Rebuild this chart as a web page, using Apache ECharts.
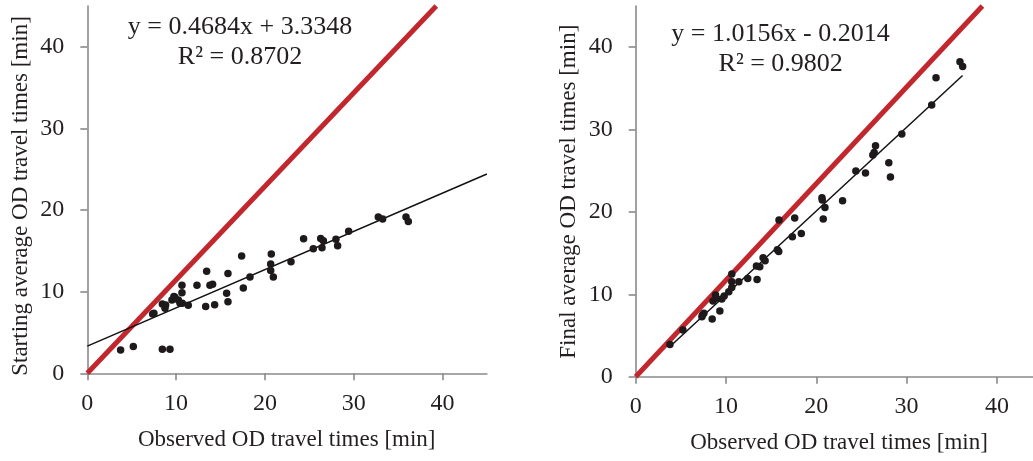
<!DOCTYPE html>
<html>
<head>
<meta charset="utf-8">
<script src="https://cdn.jsdelivr.net/npm/echarts@6/dist/echarts.min.js"></script>
<style>
html,body{margin:0;padding:0;background:#fff;}
#c{width:1033px;height:461px;}
</style>
</head>
<body>
<div id="c"></div>
<script>
// ---- data ----
const tickValues = [0, 10, 20, 30, 40];

// Left panel: observed vs starting average OD travel times
const leftObserved = [3.75,5.18,8.45,9.31,7.36,7.5,8.45,8.75,8.82,9.53,9.75,9.87,10.25,10.44,10.66,10.66,10.7,11.37,12.35,13.33,13.44,13.81,14.11,14.34,15.69,15.84,15.84,17.38,17.57,18.32,20.72,20.65,20.65,20.95,22.94,24.36,25.45,26.28,26.58,26.43,28.0,28.19,29.43,32.77,33.26,35.89,36.15];
const leftStarting = [2.86,3.27,2.94,2.94,7.27,7.35,8.49,7.96,8.37,8.98,9.4,9.31,8.98,8.57,10.8,9.88,8.57,8.33,10.8,8.18,12.49,10.78,10.9,8.39,9.8,12.24,8.78,14.37,10.45,11.8,14.63,13.39,12.59,11.8,13.67,16.49,15.27,16.53,16.24,15.39,16.41,15.63,17.39,19.14,18.9,19.14,18.61];
const leftFitLine = [[0, 3.33], [45, 24.41]];
const leftRefLine = [[0, 0], [39.3, 45]];
const leftEquation = ['y = 0.4684x + 3.3348', 'R\u00B2 = 0.8702'];
const leftYTitle = 'Starting average OD travel times [min]';

// Right panel: observed vs final average OD travel times
const rightObserved = [3.79,5.23,7.4,7.55,7.33,8.47,8.55,8.84,8.91,9.32,9.54,9.8,10.31,10.64,10.64,10.64,11.42,12.41,13.37,13.44,13.74,14.11,14.33,15.69,15.84,15.87,17.35,17.61,18.34,20.63,20.66,20.77,20.96,22.91,24.38,25.45,26.26,26.41,26.56,28.03,28.21,29.47,32.78,33.26,35.91,36.21];
const rightFinal = [3.92,5.66,7.48,7.69,7.28,7.0,9.18,9.91,9.51,7.97,9.43,9.79,10.32,12.46,11.53,10.84,11.53,11.93,13.43,11.81,13.35,14.44,14.08,15.41,15.21,19.01,16.99,19.26,17.39,21.72,21.44,19.13,20.55,21.36,24.96,24.72,26.9,27.22,28.03,25.97,24.23,29.45,32.97,36.29,38.23,37.66];
const rightFitLine = [[3.8, 3.66], [36.2, 36.56]];
const rightRefLine = [[0, 0], [38.4, 45]];
const rightEquation = ['y = 1.0156x - 0.2014', 'R\u00B2 = 0.9802'];
const rightYTitle = 'Final average OD travel times [min]';

const xTitle = 'Observed OD travel times [min]';

// ---- styling ----
const FONT = '"Liberation Serif", "Times New Roman", serif';
const TXT = '#231f20';
const AXC = '#8a8a8a';
const RED = '#c1272d';

function zip(xs, ys) { return xs.map((x, i) => [x, ys[i]]); }

function xAxis(gridIndex, max) {
  return {
    type: 'value', gridIndex, min: 0, max, interval: 10,
    splitLine: { show: false },
    axisLine: { show: true, onZero: false, lineStyle: { color: AXC, width: 1.6 } },
    axisTick: { show: true, inside: false, length: 7, customValues: tickValues, lineStyle: { color: AXC, width: 1.6 } },
    axisLabel: { show: true, customValues: tickValues, margin: 18, fontFamily: FONT, fontSize: 24, color: TXT }
  };
}
function yAxis(gridIndex) {
  return {
    type: 'value', gridIndex, min: 0, max: 45, interval: 10,
    splitLine: { show: false },
    axisLine: { show: true, onZero: false, lineStyle: { color: AXC, width: 1.6 } },
    axisTick: { show: true, inside: false, length: 7, customValues: tickValues, lineStyle: { color: AXC, width: 1.6 } },
    axisLabel: { show: true, customValues: tickValues, margin: 23, fontFamily: FONT, fontSize: 24, color: TXT }
  };
}

function panelSeries(idx, obs, est, fit, ref) {
  return [
    { type: 'line', xAxisIndex: idx, yAxisIndex: idx, data: ref, symbol: 'none', silent: true,
      lineStyle: { color: RED, width: 5 }, z: 2, clip: true },
    { type: 'line', xAxisIndex: idx, yAxisIndex: idx, data: fit, symbol: 'none', silent: true,
      lineStyle: { color: '#111', width: 1.5 }, z: 3 },
    { type: 'scatter', xAxisIndex: idx, yAxisIndex: idx, data: zip(obs, est), symbol: 'circle', symbolSize: 7.5,
      itemStyle: { color: '#1e1a1b', opacity: 1 }, z: 4 }
  ];
}

function txt(x, y, s, size, rot) {
  return { type: 'text', x, y, rotation: rot || 0,
    style: { text: s, font: size + 'px ' + FONT, fill: TXT, align: 'center', verticalAlign: 'middle' } };
}

const chart = echarts.init(document.getElementById('c'), null, { renderer: 'canvas' });
chart.setOption({
  backgroundColor: '#ffffff',
  animation: false,
  grid: [
    { left: 87.3, top: 6, width: 399.6, height: 367.3 },
    { left: 635.7, top: 6, width: 398.2, height: 370.7 }
  ],
  xAxis: [xAxis(0, 45), xAxis(1, 44)],
  yAxis: [yAxis(0), yAxis(1)],
  series: [].concat(
    panelSeries(0, leftObserved, leftStarting, leftFitLine, leftRefLine),
    panelSeries(1, rightObserved, rightFinal, rightFitLine, rightRefLine)
  ),
  graphic: [
    txt(240, 27, leftEquation[0], 26),
    txt(240, 57, leftEquation[1], 26),
    txt(780.5, 34, rightEquation[0], 26),
    txt(780.7, 64, rightEquation[1], 26),
    txt(286.7, 440, xTitle, 23),
    txt(839, 443.3, xTitle, 23),
    txt(21, 196, leftYTitle, 23, Math.PI / 2),
    txt(569, 191.7, rightYTitle, 23, Math.PI / 2)
  ]
});
</script>
</body>
</html>
